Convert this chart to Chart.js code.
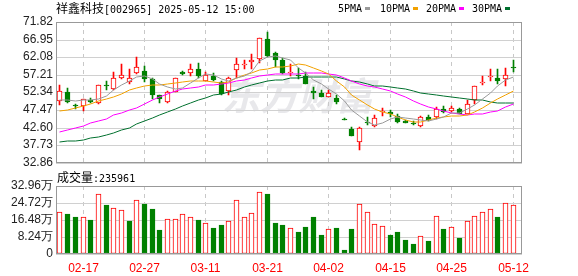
<!DOCTYPE html>
<html><head><meta charset="utf-8">
<script src="https://cdn.jsdelivr.net/npm/chart.js@4.4.1/dist/chart.umd.min.js"></script>
<style>
html,body{margin:0;padding:0;background:#fff;width:578px;height:276px;overflow:hidden;}
#wrap{position:relative;width:578px;height:276px;}
canvas{position:absolute;left:0;}
.t{position:absolute;white-space:nowrap;color:#000;line-height:12px;}
.cjk{font-family:"Noto Sans CJK SC";font-size:12px;}
.mono{font-family:"DejaVu Sans Mono";font-size:10px;}
.sq{position:absolute;width:5px;height:3px;}
</style></head><body>
<div id="wrap">
<canvas id="pc" width="578" height="173" style="top:0"></canvas>
<canvas id="vc" width="578" height="106" style="top:170px"></canvas>
<div class="t" style="left:56px;top:2px;"><span class="cjk">祥鑫科技</span><span class="mono">[002965] 2025-05-12 15:00</span></div>
<div class="t mono" style="left:338px;top:3px;">5PMA</div><div class="sq" style="left:365px;top:7px;background:#9a9a9a"></div>
<div class="t mono" style="left:380px;top:3px;">10PMA</div><div class="sq" style="left:413px;top:7px;background:#f2a100"></div>
<div class="t mono" style="left:426px;top:3px;">20PMA</div><div class="sq" style="left:459px;top:7px;background:#ff00ff"></div>
<div class="t mono" style="left:472px;top:3px;">30PMA</div><div class="sq" style="left:505px;top:7px;background:#00702e"></div>
<div class="t" style="left:57px;top:171px;"><span class="cjk">成交量</span><span class="mono">:235961</span></div>
</div>
<script>
// ---- data ----
const dates = ['02-12','02-13','02-14','02-17','02-18','02-19','02-20','02-21','02-24','02-25','02-26','02-27','02-28',
'03-03','03-04','03-05','03-06','03-07','03-10','03-11','03-12','03-13','03-14','03-17','03-18','03-19','03-20','03-21','03-24','03-25','03-26','03-27','03-28','03-31',
'04-01','04-02','04-03','04-07','04-08','04-09','04-10','04-11','04-14','04-15','04-16','04-17','04-18','04-21','04-22','04-23','04-24','04-25','04-28','04-29','04-30',
'05-06','05-07','05-08','05-09','05-12'];
const xTickLabels = ['02-17','02-27','03-11','03-21','04-02','04-15','04-25','05-12'];
const priceTicks = [32.86,37.73,42.60,47.47,52.34,57.21,62.08,66.95,71.82];
const volTicks = [0,8.24,16.48,24.72,32.96];

const open  = [50.0,52.4,48.7,48.6,50.2,49.3,54.3,53.2,56.4,55.3,57.8,58.2,56.0,51.5,49.6,52.4,57.9,57.8,58.8,55.5,57.0,55.1,52.6,58.6,59.9,60.7,61.6,67.1,63.2,61.2,57.6,57.0,56.9,52.8,52.3,51.0,50.8,44.9,42.1,38.5,44.2,43.0,46.9,46.8,45.7,44.5,43.9,43.0,45.4,45.4,47.8,47.2,47.8,46.3,50.1,55.0,56.6,56.2,56.0,59.4];
const high  = [54.4,53.5,49.2,50.6,50.7,54.5,55.5,58.0,60.2,58.7,62.1,59.6,56.3,51.7,52.8,56.4,58.3,60.3,60.5,58.1,57.6,55.5,56.6,61.9,61.4,63.0,67.3,69.0,63.5,61.9,60.3,59.2,58.1,53.9,53.0,53.0,51.5,45.2,42.8,42.8,45.6,46.2,48.0,47.4,46.3,44.8,44.5,45.7,46.0,48.3,48.7,48.6,47.9,50.3,54.0,56.9,58.7,58.7,59.0,61.2];
const low   = [48.8,49.5,47.8,47.1,49.4,49.0,53.0,53.0,56.0,54.8,57.4,55.3,50.6,49.5,49.5,52.4,57.1,56.9,56.3,55.4,55.5,51.7,51.7,56.4,58.7,58.7,60.5,62.1,59.3,57.5,57.0,56.0,54.6,50.6,51.0,51.0,49.0,44.64,40.18,36.3,43.3,42.85,45.7,45.4,43.8,43.75,43.3,42.85,44.5,45.1,46.7,46.9,46.3,46.3,49.0,54.4,55.5,54.6,54.2,58.1];
const close = [52.7,49.8,48.5,50.55,49.7,54.4,54.0,56.2,57.1,56.4,59.4,56.0,51.5,50.5,52.4,56.2,57.4,58.7,57.0,57.1,55.8,51.9,56.2,60.1,60.2,61.2,67.3,62.3,61.2,57.7,57.9,56.8,54.8,52.1,51.2,52.1,49.6,44.64,40.18,42.4,44.0,45.3,47.0,46.3,44.2,43.9,43.6,45.4,44.7,47.65,46.9,48.1,46.5,49.2,54.0,55.1,56.7,55.5,57.1,59.2];
const volume = [20.6,19.3,17.8,17.7,16.4,28.9,23.8,22.2,21.2,15.9,26.0,24.2,21.7,11.6,16.8,16.8,19.3,17.7,16.4,14.8,12.5,13.9,16.2,26.3,17.7,20.1,30.2,28.9,14.9,13.9,12.4,10.6,13.0,17.8,9.2,11.9,12.5,1.9,12.0,24.4,20.6,14.4,13.5,9.2,10.6,6.7,4.8,8.5,6.4,18.6,12.0,13.3,7.7,16.2,18.2,20.6,22.0,17.8,24.9,23.5961];

const ma5  = [50.3,50.3,49.9,50.1,50.25,50.6,51.4,53.0,54.3,55.6,56.6,57.0,56.1,54.8,53.95,53.3,53.6,55.0,56.3,57.3,57.2,56.1,55.6,56.2,56.8,57.9,61.0,62.2,62.4,61.9,61.3,59.2,57.7,55.9,54.6,53.4,52.0,49.9,47.5,45.8,44.2,43.3,43.8,45.0,45.4,45.3,45.0,44.7,44.4,45.05,45.65,46.55,46.77,47.67,48.94,50.58,52.3,54.1,55.7,56.7];
const ma10 = [47.2,47.6,48.0,48.5,49.2,49.9,50.6,51.2,51.9,52.9,53.6,54.2,54.5,54.5,54.8,55.0,55.3,55.6,55.55,55.6,55.3,54.85,55.3,56.3,57.1,57.6,58.55,58.9,59.3,59.35,59.6,60.1,60.0,59.2,58.3,57.4,55.6,53.8,51.7,50.15,48.8,47.65,46.9,46.3,45.6,44.8,44.2,44.2,44.7,45.2,45.5,45.8,45.7,46.0,47.0,48.1,49.4,50.4,51.7,52.8];
const ma20 = [41.3,41.8,42.4,43.0,43.75,44.5,45.1,46.0,46.65,47.4,48.1,49.2,50.3,51.0,51.9,52.6,53.2,53.5,53.9,54.28,54.43,54.54,54.92,55.4,55.9,56.3,56.9,57.2,57.4,57.5,57.45,57.5,57.65,57.7,57.7,57.5,57.1,56.4,55.5,54.8,54.2,53.9,53.4,52.7,51.9,51.1,49.9,49.0,48.2,47.7,47.1,46.7,46.3,46.15,46.3,46.4,46.8,47.3,48.2,49.0];
const ma30 = [38.5,38.8,39.0,39.3,39.6,40.0,40.5,41.1,41.8,42.6,43.5,44.4,45.2,46.0,46.8,47.7,48.6,49.4,50.2,50.9,51.5,52.0,52.5,53.1,53.7,54.3,54.9,55.4,55.7,55.9,56.2,56.4,56.6,56.7,56.7,56.6,56.5,56.1,55.5,55.1,54.6,54.2,54.1,53.9,53.6,53.2,52.8,52.3,51.9,51.6,51.3,51.2,50.9,50.5,50.3,50.1,49.7,49.5,49.4,49.4];

// ---- styles ----
const RED='#ff0000', GREEN='#008000';
const tickIdx = xTickLabels.map(d => dates.indexOf(d));
const up = close.map((c,i) => c >= open[i]);
const volUp = close.map((c,i) => i === 0 ? up[0] : c >= close[i-1]);
const XMIN=-0.52, XMAX=60.16;

// linear scale that snaps pixels to the device grid for crisp bars
class CrispLinear extends Chart.LinearScale {
  getPixelForValue(v){
    const p = super.getPixelForValue(v);
    return this.isHorizontal() ? Math.floor(p) + 0.5 : Math.round(p);
  }
}
CrispLinear.id = 'crisplinear';
CrispLinear.defaults = Chart.LinearScale.defaults;
Chart.register(CrispLinear);

const frame = {
  id:'frame',
  afterDraw(chart){
    const a = chart.chartArea, ctx = chart.ctx;
    ctx.save(); ctx.strokeStyle='#999'; ctx.lineWidth=1;
    ctx.strokeRect(Math.round(a.left)+0.5, Math.round(a.top)+0.5, Math.round(a.right)-Math.round(a.left)-1, Math.round(a.bottom)-Math.round(a.top)-1);
    ctx.restore();
  }
};
const watermark = {
  id:'wm',
  beforeDraw(chart){
    const ctx = chart.ctx;
    ctx.save();
    ctx.fillStyle='#e8e8eb';
    ctx.font='italic bold 38px "Noto Sans CJK SC"';
    ctx.textBaseline='alphabetic';
    ctx.fillText('东方财富', 222, 110);
    ctx.restore();
  }
};

const xScale = (showLabels) => ({
  type:'crisplinear', min:XMIN, max:XMAX, offset:false,
  afterBuildTicks: s => { s.ticks = tickIdx.map(v => ({value:v})); },
  ticks:{display:showLabels, autoSkip:false, maxRotation:0, padding:7,
    callback: v => dates[v] || '', color:RED, font:{family:'Liberation Sans', size:12}},
  grid:{color:'#c8c8c8', drawTicks:false, lineWidth:1, offset:false},
  border:{display:false, dash:[4,4]},
  afterFit: s => { s.height = showLabels ? 22 : 0; }
});

new Chart(document.getElementById('pc'), {
  type:'bar',
  data:{ datasets:[
    {type:'line', data:ma5.map((v,i)=>({x:i,y:v})), borderColor:'#9a9a9a', borderWidth:1, pointRadius:0, order:0},
    {type:'line', data:ma10.map((v,i)=>({x:i,y:v})), borderColor:'#f2a100', borderWidth:1, pointRadius:0, order:0},
    {type:'line', data:ma20.map((v,i)=>({x:i,y:v})), borderColor:'#ff00ff', borderWidth:1, pointRadius:0, order:0},
    {type:'line', data:ma30.map((v,i)=>({x:i,y:v})), borderColor:'#00702e', borderWidth:1, pointRadius:0, order:0},
    {type:'bar', data:open.map((o,i)=>({x:i,y:[o,close[i]]})), grouped:false, barThickness:5, minBarLength:1,
      backgroundColor: up.map(u=>u?'#ffffff':GREEN), borderColor: up.map(u=>u?RED:GREEN), borderWidth:1, borderSkipped:false, order:1},
    {type:'bar', data:low.map((l,i)=>({x:i,y:[l,high[i]]})), grouped:false, barThickness:1,
      backgroundColor: up.map(u=>u?RED:GREEN), borderWidth:0, order:2}
  ]},
  options:{
    responsive:false, animation:false, devicePixelRatio:1,
    layout:{padding:{left:0,right:56,top:22,bottom:8}},
    plugins:{legend:{display:false}, tooltip:{enabled:false}},
    scales:{
      x: xScale(false),
      y:{type:'crisplinear', min:32.86, max:71.82,
        afterBuildTicks: s => { s.ticks = priceTicks.map(v => ({value:v})); },
        ticks:{callback: v => v.toFixed(2), padding:3, autoSkip:false, color:'#222', font:{family:'Liberation Sans', size:12}},
        grid:{color:'#d0d0d0', drawTicks:false}, border:{display:false},
        afterFit: s => { s.width = 56; }}
    }
  },
  plugins:[watermark, frame]
});

new Chart(document.getElementById('vc'), {
  type:'bar',
  data:{ datasets:[
    {data:volume.map((v,i)=>({x:i,y:v})), grouped:false, barThickness:5,
      backgroundColor: volUp.map(u=>u?'#ffffff':GREEN), borderColor: volUp.map(u=>u?RED:GREEN), borderWidth:1, borderSkipped:false}
  ]},
  options:{
    responsive:false, animation:false, devicePixelRatio:1,
    layout:{padding:{left:0,right:56,top:16,bottom:0}},
    plugins:{legend:{display:false}, tooltip:{enabled:false}},
    scales:{
      x: xScale(true),
      y:{type:'crisplinear', min:0, max:32.96,
        afterBuildTicks: s => { s.ticks = volTicks.map(v => ({value:v})); },
        ticks:{callback: v => v === 0 ? '0' : v.toFixed(2) + '万', padding:3, autoSkip:false, color:'#222', font:{family:'Liberation Sans', size:12}},
        grid:{color:'#d0d0d0', drawTicks:false}, border:{display:false},
        afterFit: s => { s.width = 56; }}
    }
  },
  plugins:[frame]
});
</script>
</body></html>
